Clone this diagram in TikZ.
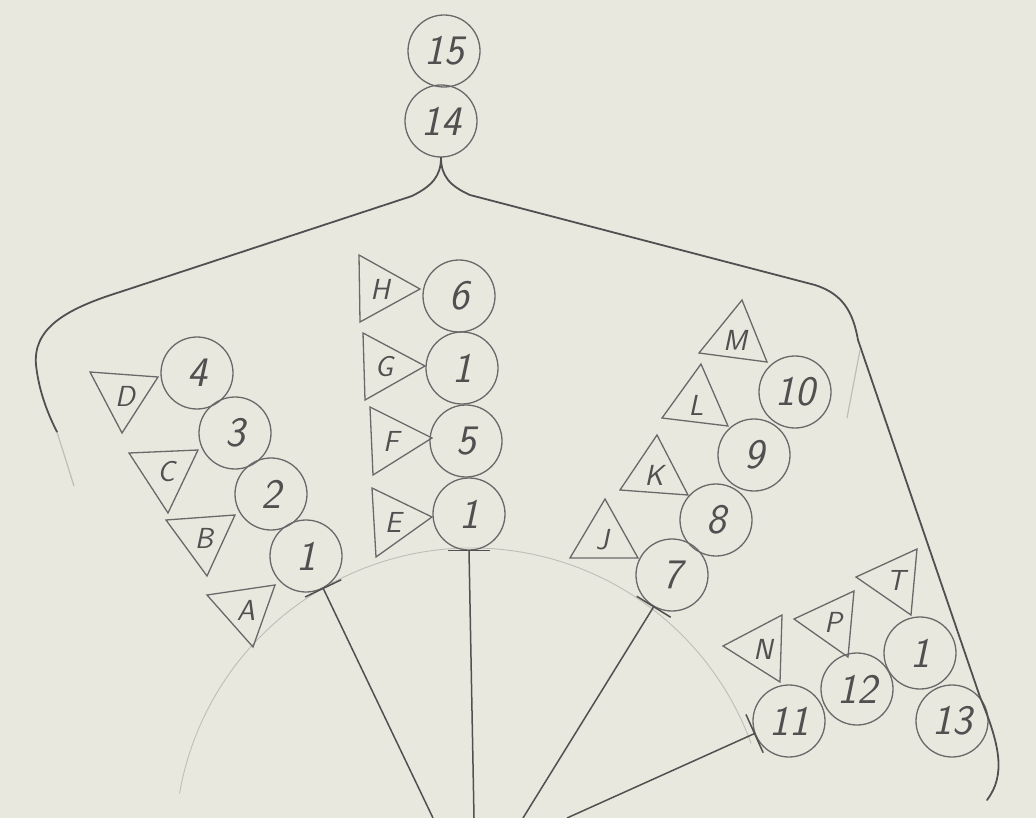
\documentclass[tikz,border=0pt]{standalone}
\usetikzlibrary{calc}
\definecolor{paper}{RGB}{233,232,223}
\definecolor{pencil}{RGB}{80,80,80}
\definecolor{pencilL}{RGB}{105,105,105}
\definecolor{faint}{RGB}{190,190,184}
\tikzset{
 num/.style={circle, draw=pencilL, line width=1.3pt, minimum size=72pt, inner sep=0pt,
   font=\fontsize{42}{42}\selectfont\sffamily\itshape, text=pencil},
 tri/.style={draw=pencilL, line width=1.3pt, line join=miter},
 lab/.style={font=\fontsize{29}{29}\selectfont\sffamily\itshape, text=pencil, inner sep=0pt},
 conn/.style={draw=pencil, line width=1.5pt},
 tick/.style={draw=pencil, line width=1.5pt},
 brace/.style={draw=pencil, line width=1.8pt, line cap=round},
 guide/.style={draw=faint, line width=0.9pt},
}
\begin{document}
\begin{tikzpicture}[x=1pt,y=-1pt]
\useasboundingbox (0,0) rectangle (1036,818);
\clip (0,0) rectangle (1036,818);
\fill[paper] (0,0) rectangle (1036,818);
% faint guide arc
\coordinate (hub) at (472,845);
\draw[guide] ($(hub)+(190:297)$) arc[start angle=190, end angle=340, radius=297];
% top
\node[num] (c15) at (444,51) {15};
\node[num] (c14) at (441,121) {14};
% left group
\node[num] (c4) at (197,373) {4};
\node[num] (c3) at (235,433) {3};
\node[num] (c2) at (271,494) {2};
\node[num] (c1a) at (306,556) {1};
\draw[tri] (90,372) -- (158,377) -- (122,433) -- cycle; \node[lab] (tD) at (125,396) {D};
\draw[tri] (129,453) -- (198,450) -- (168,513) -- cycle; \node[lab] (tC) at (166,472) {C};
\draw[tri] (166,520) -- (235,515) -- (207,576) -- cycle; \node[lab] (tB) at (204,538) {B};
\draw[tri] (207,595) -- (275,585) -- (253,647) -- cycle; \node[lab] (tA) at (246,610) {A};
% middle column
\node[num] (c6) at (459,296) {6};
\node[num] (c1b) at (462,368) {1};
\node[num] (c5) at (466,441) {5};
\node[num] (c1c) at (469,514) {1};
\draw[tri] (359,255) -- (360,322) -- (420,289) -- cycle; \node[lab] (tH) at (380,289) {H};
\draw[tri] (363,333) -- (365,400) -- (425,366) -- cycle; \node[lab] (tG) at (384,367) {G};
\draw[tri] (370,407) -- (373,475) -- (432,438) -- cycle; \node[lab] (tF) at (391,441) {F};
\draw[tri] (372,488) -- (376,557) -- (432,517) -- cycle; \node[lab] (tE) at (393,522) {E};
% right group
\node[num] (c10) at (795,392) {10};
\node[num] (c9) at (754,455) {9};
\node[num] (c8) at (716,520) {8};
\node[num] (c7) at (672,575) {7};
\draw[tri] (742,300) -- (699,353) -- (767,362) -- cycle; \node[lab] (tM) at (735,340) {M};
\draw[tri] (701,364) -- (662,418) -- (728,426) -- cycle; \node[lab] (tL) at (696,405) {L};
\draw[tri] (657,435) -- (620,490) -- (688,495) -- cycle; \node[lab] (tK) at (654,475) {K};
\draw[tri] (605,499) -- (570,558) -- (638,558) -- cycle; \node[lab] (tJ) at (602,540) {J};
% bottom right group
\node[num] (c11) at (789,721) {11};
\node[num] (c12) at (857,689) {12};
\node[num] (c1d) at (920,653) {1};
\node[num] (c13) at (952,721) {13};
\draw[tri] (723,646) -- (782,615) -- (780,682) -- cycle; \node[lab] (tN) at (763,649) {N};
\draw[tri] (794,619) -- (854,591) -- (848,657) -- cycle; \node[lab] (tP) at (833,622) {P};
\draw[tri] (856,577) -- (917,549) -- (911,615) -- cycle; \node[lab] (tT) at (896,580) {T};
% bracket
\draw[brace] (c14.south) .. controls (441,176) and (432,186) .. (412,196)
  -- (120,292) .. controls (62,310) and (33,330) .. (36,365)
  .. controls (39,392) and (48,414) .. (57,432);
\draw[guide, line width=1.2pt] (57,432) -- (74,486);
\draw[brace] (c14.south) .. controls (441,176) and (450,186) .. (470,195)
  -- (815,285) .. controls (843,294) and (853,312) .. (858,340)
  -- (980,697) .. controls (1000,745) and (1006,775) .. (987,800);
\draw[guide, line width=1.2pt] (860,350) -- (847,418);
% connectors
\coordinate (e1) at (433,818);
\coordinate (e2) at (474,818);
\coordinate (e3) at (523,818);
\coordinate (e4) at (567,818);
\draw[conn] (c1a.298) -- (e1);
\draw[conn] (c1c.south) -- (e2);
\draw[conn] (c7.240) -- (e3);
\draw[conn] (c11.200) -- (e4);
% ticks
\draw[tick] ($(c1a.298)!20pt!90:(e1)$) -- ($(c1a.298)!20pt!-90:(e1)$);
\draw[tick] ([xshift=-21pt]c1c.south) -- ([xshift=21pt]c1c.south);
\draw[tick] ($(c7.240)!20pt!90:(e3)$) -- ($(c7.240)!20pt!-90:(e3)$);
\draw[tick] ($(c11.200)!21pt!90:(e4)$) -- ($(c11.200)!21pt!-90:(e4)$);
\end{tikzpicture}
\end{document}
